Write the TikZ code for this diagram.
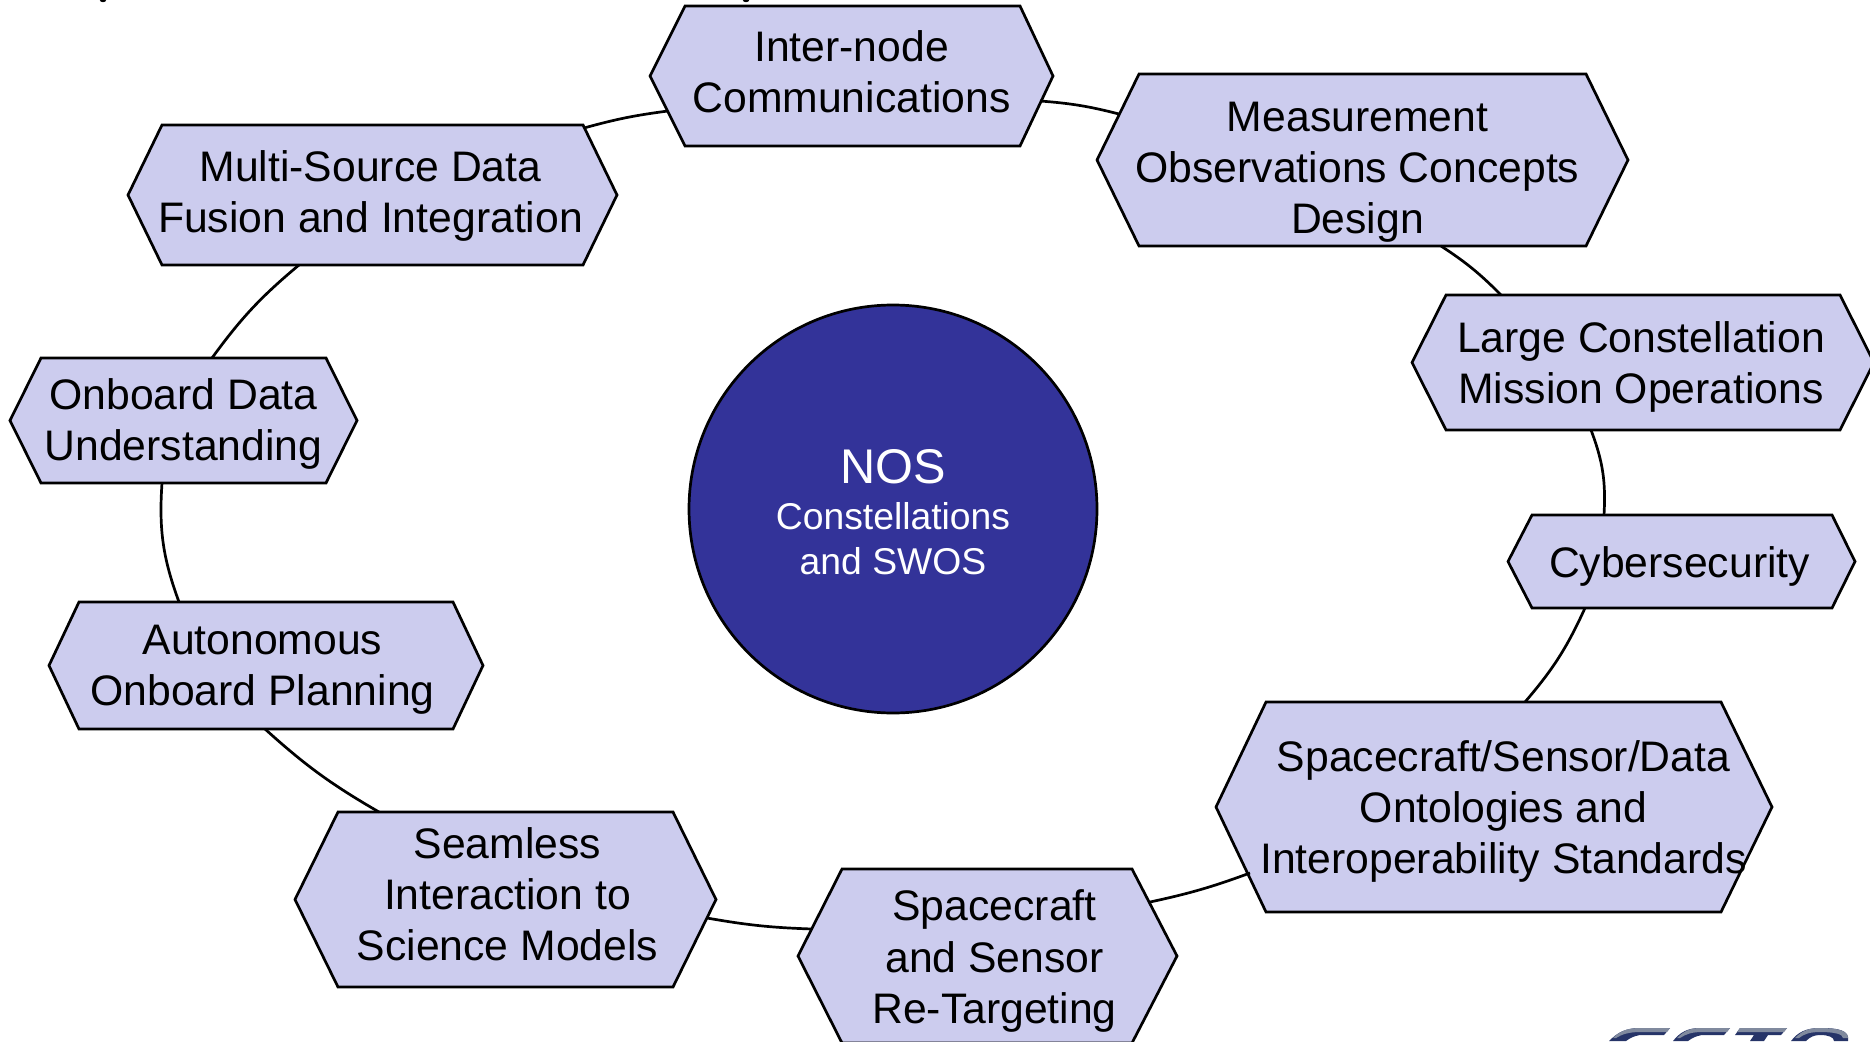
\documentclass[tikz,border=0pt]{standalone}
\usepackage{fontspec}
\setmainfont{Liberation Sans}
\usetikzlibrary{calc}
\definecolor{hexfill}{RGB}{204,204,238}
\definecolor{discfill}{RGB}{51,51,153}
\definecolor{logosteel}{RGB}{128,138,158}
\definecolor{logonavy}{RGB}{38,52,104}
\tikzset{
  x=1pt,y=-1pt,
  hexline/.style={draw=black,fill=hexfill,line width=2.7pt,line join=miter},
  hexlabel/.style={inner sep=0pt,outer sep=0pt,align=center,text=black,font=\fontsize{42.7}{51.2}\selectfont},
  link/.style={draw=black,line width=2.7pt},
  speck/.style={fill=black,draw=none},
  logotop/.style={draw=none,fill=logosteel},
  logolow/.style={draw=none,fill=logonavy},
}
% name, left, inset-left, inset-right, right, top, bottom
\newcommand{\hexbox}[7]{%
  \path[hexline] (#2,{(#6+#7)/2}) -- (#3,#6) -- (#4,#6) -- (#5,{(#6+#7)/2}) -- (#4,#7) -- (#3,#7) -- cycle;
  \node[minimum width=#5pt-#2pt,minimum height=#7pt-#6pt,inner sep=0pt,outer sep=0pt] (#1) at ({(#2+#5)/2},{(#6+#7)/2}) {};
}
\begin{document}
\begin{tikzpicture}
\useasboundingbox (0,0) rectangle (1870,1041);
\fill[speck] (103,0) ellipse (3.2 and 2.2);
\fill[speck] (746,0) ellipse (3.2 and 2.2);
% logo remnant, cut by the lower edge
\fill[logolow] (1609,1041) .. controls (1618,1032) and (1626,1028) .. (1640,1028) -- (1670,1028) -- (1664,1035) -- (1640,1035) .. controls (1634,1036) and (1630,1038) .. (1626,1041) -- cycle;
\fill[logotop] (1613,1038) .. controls (1620,1031) and (1628,1028) .. (1640,1028) -- (1670,1028) -- (1667,1032) -- (1640,1032) .. controls (1630,1032) and (1622,1034) .. (1616,1038) -- cycle;
\fill[logolow] (1673,1041) .. controls (1680,1032) and (1688,1028) .. (1700,1028) -- (1730,1028) -- (1724,1035) -- (1702,1035) .. controls (1696,1036) and (1692,1038) .. (1688,1041) -- cycle;
\fill[logotop] (1677,1038) .. controls (1684,1031) and (1690,1028) .. (1700,1028) -- (1730,1028) -- (1727,1032) -- (1702,1032) .. controls (1692,1032) and (1686,1034) .. (1680,1038) -- cycle;
\fill[logolow] (1740,1028) -- (1787,1028) -- (1781,1035) -- (1768,1035) -- (1764,1041) -- (1750,1041) -- (1754,1035) -- (1735,1035) -- cycle;
\fill[logotop] (1740,1028) -- (1787,1028) -- (1784,1032) -- (1737,1032) -- cycle;
\fill[logolow] (1791,1041) .. controls (1798,1032) and (1806,1028) .. (1820,1028) .. controls (1838,1028) and (1850,1030) .. (1848,1041) -- (1834,1041) .. controls (1834,1037) and (1828,1035) .. (1820,1035) .. controls (1814,1035) and (1810,1037) .. (1806,1041) -- cycle;
\fill[logotop] (1795,1038) .. controls (1802,1031) and (1808,1028) .. (1820,1028) .. controls (1836,1028) and (1848,1030) .. (1848,1038) -- (1843,1038) .. controls (1843,1034) and (1834,1032) .. (1820,1032) .. controls (1810,1032) and (1804,1034) .. (1799,1038) -- cycle;
\hexbox{inter}{650}{685}{1020}{1053}{6}{146}
\hexbox{meas}{1097}{1139}{1586}{1628}{74}{246}
\hexbox{multi}{128}{162}{583}{617}{125}{265}
\hexbox{onboard}{10}{41}{326}{357}{358}{483}
\hexbox{large}{1412}{1446}{1840}{1874}{295}{430}
\hexbox{cyber}{1508}{1532}{1832}{1855}{515}{608}
\hexbox{ontol}{1216}{1266}{1721}{1772}{702}{912}
\hexbox{auton}{49}{79}{453}{483}{602}{729}
\hexbox{seam}{295}{338}{673}{716}{812}{987}
\hexbox{retar}{798}{842}{1132}{1177}{869}{1043}
\node[hexlabel] (tinter) at (851.5,71.5) {Inter-node\\Communications};
\node[hexlabel] (tmeas) at (1357.5,172) {Measurement\\Observations Concepts\\Design};
\node[hexlabel] (tmulti) at (370.5,196) {Multi-Source Data\\Fusion and Integration};
\node[hexlabel] (tonboard) at (183.5,424) {Onboard Data\\Understanding};
\node[hexlabel] (tlarge) at (1641,367) {Large Constellation\\Mission Operations};
\node[hexlabel] (tcyber) at (1679.5,566) {Cybersecurity};
\node[hexlabel] (tontol) at (1503.5,811.5) {Spacecraft/Sensor/Data\\Ontologies and\\Interoperability Standards};
\node[hexlabel] (tauton) at (262.5,670) {Autonomous\\Onboard Planning};
\node[hexlabel] (tseam) at (507.5,894) {Seamless\\Interaction to\\Science Models};
\node[hexlabel] (tretar) at (994.5,961) {Spacecraft\\and Sensor\\Re-Targeting};
\node[circle,draw=black,fill=discfill,line width=2.7pt,minimum size=408pt,inner sep=0pt,outer sep=0pt] (nos) at (893,509) {};
\node[inner sep=0pt,outer sep=0pt,text=white,align=center,font=\fontsize{37.3}{45}\selectfont] (nostext) at (893,512)
  {{\fontsize{48.7}{54}\selectfont NOS}\\[1.5pt]Constellations\\and SWOS};
\draw[link] ($(inter.center)+(188.5,25)$) to[bend left=5] ($(meas.center)+(-243.5,-46)$);
\draw[link] ($(meas.center)+(78.5,86)$) to[bend left=6] ($(large.center)+(-142,-67.5)$);
\draw[link] ($(large.center)+(-52,67.5)$) to[bend left=12] ($(cyber.center)+(-77.5,-46.5)$);
\draw[link] ($(cyber.center)+(-96.5,46.5)$) to[bend left=8] ($(ontol.center)+(31,-105)$);
\draw[link] ($(ontol.center)+(-244,66)$) to[bend left=4] ($(retar.center)+(162.5,-54)$);
\draw[link] ($(retar.center)+(-175.5,-27)$) to[bend left=4] ($(seam.center)+(201.5,18.5)$);
\draw[link] ($(seam.center)+(-126.5,-87.5)$) to[bend left=6] ($(auton.center)+(-1,63.5)$);
\draw[link] ($(auton.center)+(-87,-63.5)$) to[bend left=12] ($(onboard.center)+(-21.5,62.5)$);
\draw[link] ($(onboard.center)+(28.5,-62.5)$) to[bend left=7] ($(multi.center)+(-73.5,70)$);
\draw[link] ($(multi.center)+(211.5,-67)$) to[bend left=4] ($(inter.center)+(-183.5,35)$);
\end{tikzpicture}
\end{document}
